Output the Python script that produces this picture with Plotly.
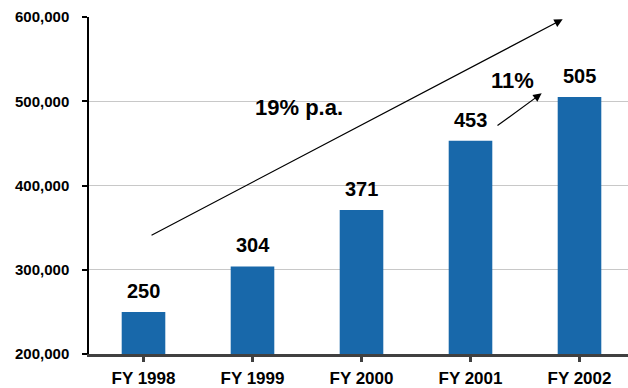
import plotly.graph_objects as go

# Annual volume by fiscal year (thousands)
years = ["FY 1998", "FY 1999", "FY 2000", "FY 2001", "FY 2002"]
values_k = [250, 304, 371, 453, 505]
y_ticks = [200000, 300000, 400000, 500000, 600000]

# Growth callouts
cagr_label = "19% p.a."
yoy_label = "11%"

BAR_COLOR = "#1868aa"
FONT = "Liberation Sans, Arial, sans-serif"

x_idx = list(range(len(years)))
values = [v * 1000 for v in values_k]

fig = go.Figure()
fig.add_trace(go.Bar(
    x=x_idx, y=values, width=0.4,
    marker=dict(color=BAR_COLOR, line=dict(width=0)),
    hoverinfo="skip",
))

annotations = []
# value labels above each bar
for i, (v, vk) in enumerate(zip(values, values_k)):
    annotations.append(dict(
        x=i, y=v, xref="x", yref="y", text=str(vk), showarrow=False,
        yanchor="bottom", yshift=8,
        font=dict(family=FONT, size=20, color="black", weight="bold"),
    ))

# long-run growth arrow
annotations.append(dict(
    x=3.846, y=597300, ax=0.06, ay=340100, xref="x", yref="y",
    axref="x", ayref="y", text="", showarrow=True,
    arrowhead=2, arrowsize=1.4, arrowwidth=1.2, arrowcolor="black",
))
annotations.append(dict(
    x=1.422, y=492000, xref="x", yref="y", text=cagr_label, showarrow=False,
    font=dict(family=FONT, size=22, color="black", weight="bold"),
))
# year-on-year arrow
annotations.append(dict(
    x=3.653, y=509400, ax=3.234, ay=469800, xref="x", yref="y",
    axref="x", ayref="y", text="", showarrow=True,
    arrowhead=2, arrowsize=1.4, arrowwidth=1.2, arrowcolor="black",
))
annotations.append(dict(
    x=3.385, y=524600, xref="x", yref="y", text=yoy_label, showarrow=False,
    font=dict(family=FONT, size=22, color="black", weight="bold"),
))

fig.update_layout(
    width=628, height=388,
    margin=dict(l=89, r=0, t=17, b=34),
    paper_bgcolor="white", plot_bgcolor="white",
    showlegend=False,
    bargap=0.6,
    annotations=annotations,
    xaxis=dict(
        range=[-0.5, 4.445],
        tickmode="array", tickvals=x_idx, ticktext=years,
        tickson="boundaries", ticks="outside", ticklen=5, tickwidth=3,
        tickcolor="#404040",
        showline=True, linecolor="#404040", linewidth=3,
        showgrid=False, zeroline=False,
        ticklabelstandoff=2,
        tickfont=dict(family=FONT, size=17, color="black", weight="bold"),
    ),
    yaxis=dict(
        range=[200000, 600000],
        tickmode="array", tickvals=y_ticks, tickformat=",",
        ticks="outside", ticklen=5, tickwidth=1.5, tickcolor="black",
        showline=True, linecolor="black", linewidth=1.5,
        showgrid=True, gridcolor="#c8c8c8", gridwidth=1.2,
        zeroline=False,
        ticklabelstandoff=10,
        tickfont=dict(family=FONT, size=15, color="black", weight="bold"),
    ),
)

fig.write_html("out.html")
